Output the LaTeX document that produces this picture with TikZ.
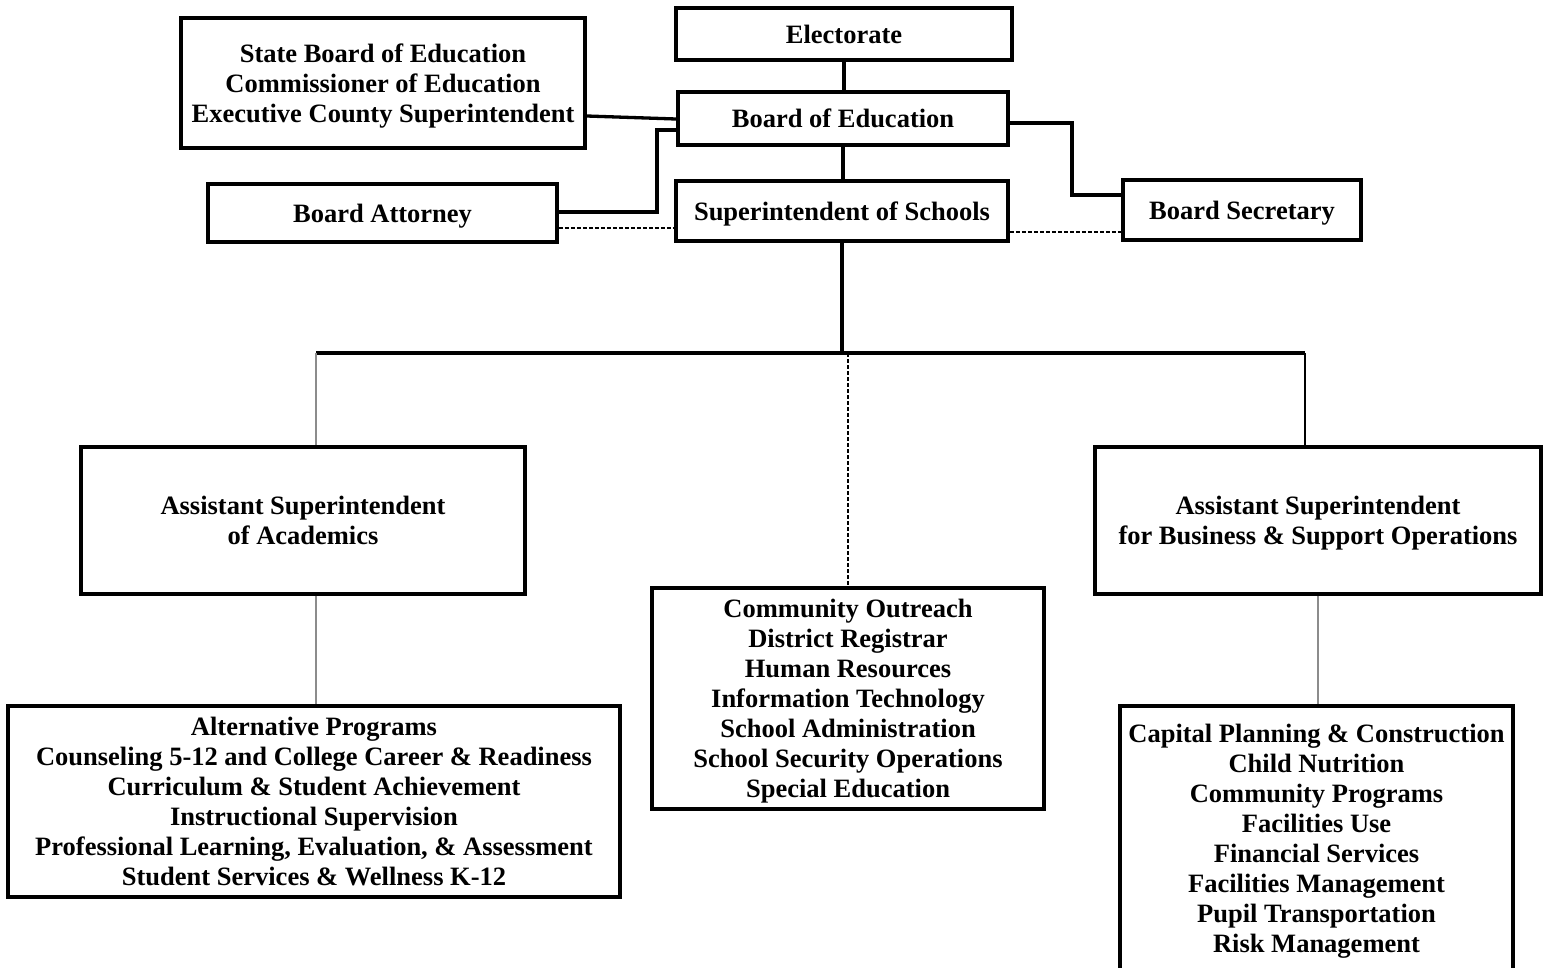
\documentclass[tikz,border=0pt]{standalone}
\usepackage{fontspec}
\setmainfont{Liberation Serif}
\definecolor{linegray}{HTML}{8C8C8C}
\newcommand{\bst}{\rule[-6pt]{0pt}{30pt}}
\begin{document}
\begin{tikzpicture}[x=1pt,y=-1pt,
  box/.style={draw, line width=3.8pt, rectangle, align=center, inner sep=0pt,
    font=\fontsize{26.5}{30}\selectfont\bfseries},
  conn/.style={line width=3.3pt},
  dsh/.style={line width=1.3pt, dash pattern=on 4pt off 2pt},
  thinconn/.style={line width=1.6pt, linegray},
  thinblack/.style={line width=1.6pt, black}]
\useasboundingbox (0,0) rectangle (1546,967);
\fill[white] (0,0) rectangle (1546,967);
% top nodes
\node[box, minimum width=336pt, minimum height=52pt] (elect) at (844,34) {\bst Electorate\bst};
\node[box, minimum width=404pt, minimum height=130pt] (state) at (383,83)
  {\bst State Board of Education\\Commissioner of Education\\Executive County Superintendent\bst};
\node[box, minimum width=330pt, minimum height=53pt] (boe) at (843,118.5) {\bst Board of Education\bst};
\node[box, minimum width=349pt, minimum height=58pt] (att) at (382.5,213) {\bst Board Attorney\bst};
\node[box, minimum width=332pt, minimum height=60pt] (super) at (842,211) {\bst Superintendent of Schools\bst};
\node[box, minimum width=238pt, minimum height=60pt] (sec) at (1242,210) {\bst Board Secretary\bst};
% second level
\node[box, minimum width=444pt, minimum height=147pt] (acad) at (303,520.5)
  {\bst Assistant Superintendent\\of Academics\bst};
\node[box, minimum width=446pt, minimum height=147pt] (bus) at (1318,520.5)
  {\bst Assistant Superintendent\\for Business \& Support Operations\bst};
\node[box, minimum width=392pt, minimum height=221pt] (mid) at (848,698.5)
  {\bst Community Outreach\\District Registrar\\Human Resources\\Information Technology\\School Administration\\School Security Operations\\Special Education\bst};
\node[box, minimum width=612pt, minimum height=191pt] (acadlist) at (314,801.5)
  {\bst Alternative Programs\\Counseling 5-12 and College Career \& Readiness\\Curriculum \& Student Achievement\\Instructional Supervision\\Professional Learning, Evaluation, \& Assessment\\Student Services \& Wellness K-12\bst};
\node[box, minimum width=393pt, minimum height=264pt] (buslist) at (1316.5,838)
  {\bst Capital Planning \& Construction\\Child Nutrition\\Community Programs\\Facilities Use\\Financial Services\\Facilities Management\\Pupil Transportation\\Risk Management\bst};
% top connectors
\draw[conn] (elect.south) -- (elect.south |- boe.north);
\draw[conn] (boe.south) -- (boe.south |- super.north);
\draw[conn] ([yshift=-33pt]state.east) -- ([yshift=-0.5pt]boe.west);
\draw[conn] ([yshift=1pt]att.east) -- ++(98,0) |- ([yshift=-11.5pt]boe.west);
\draw[conn] ([yshift=-4.5pt]boe.east) -- ++(62,0) |- ([yshift=15pt]sec.west);
\coordinate (a1) at ([yshift=-15pt]att.east);
\draw[dsh] (a1) -- (a1 -| super.west);
\coordinate (s2) at ([yshift=-21pt]super.east);
\draw[dsh] (s2) -- (s2 -| sec.west);
% bar
\coordinate (barL) at (316,353);
\coordinate (barR) at (1305,353);
\draw[conn] (super.south) -- (super.south |- barL);
\draw[conn] (barL) -- (barR);
\draw[dsh] (mid.north |- barL) -- (mid.north);
\draw[thinconn] (barL) -- (barL |- acad.north);
\draw[thinblack] (barR) -- (barR |- bus.north);
\draw[thinconn] (barL |- acad.south) -- (barL |- acadlist.north);
\draw[thinconn] (bus.south) -- (bus.south |- buslist.north);
\end{tikzpicture}
\end{document}
